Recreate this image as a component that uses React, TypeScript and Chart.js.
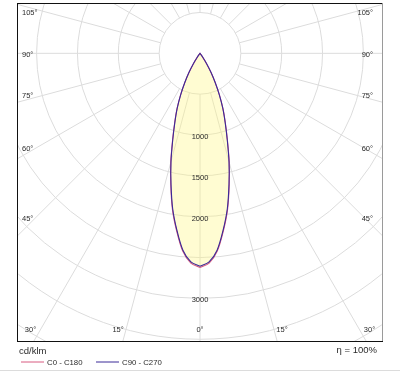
import React, { useEffect, useRef } from 'react';
import { Chart, registerables } from 'chart.js';

Chart.register(...registerables);

// ---- data ----
const gammaDeg = [0, 2.5, 5, 7.5, 10, 12.5, 15, 17.5, 20, 22.5, 25, 27.5, 30, 32.5, 35, 37.5, 40];
const intensityC0C180 = [2620, 2570, 2430, 2192, 1942, 1652, 1383, 1118, 908, 736, 565, 404, 271, 150, 60, 12, 0];
const intensityC90C270 = [2606, 2556, 2416, 2178, 1928, 1640, 1372, 1109, 900, 730, 560, 400, 268, 148, 59, 11, 0];
const ringValues = [500, 1000, 1500, 2000, 2500, 3000, 3500, 4000, 4500, 5000];
const ringLabelValues = [1000, 1500, 2000, 3000];
const angleLabelDeg = [0, 15, 30, 45, 60, 75, 90, 105];
const spokeStepDeg = 15;
const seriesNames = ['C0 - C180', 'C90 - C270'];
const unitLabel = 'cd/klm';
const efficiencyLabel = 'η = 100%';
const xRange = [-2240, 2240];
const yRange = [-616, 3521];

const RAD = Math.PI / 180;
const FONT = '"Liberation Sans", Arial, sans-serif';
const RED = '#d85a80';
const BLUE = '#3a2a98';

function toCurve(values: number[]) {
  const right = gammaDeg.map((g, i) => ({ x: values[i] * Math.sin(g * RAD), y: values[i] * Math.cos(g * RAD) }));
  const left = gammaDeg
    .map((g, i) => ({ x: -values[i] * Math.sin(g * RAD), y: values[i] * Math.cos(g * RAD) }))
    .reverse();
  return [...right, ...left];
}

const gridPlugin = {
  id: 'polarGrid',
  beforeDatasetsDraw(chart: any) {
    const { ctx, chartArea, scales } = chart;
    const xs = scales.x, ys = scales.y;
    const cx = xs.getPixelForValue(0);
    const cy = ys.getPixelForValue(0);
    const rp = (v: number) => xs.getPixelForValue(v) - cx;
    ctx.save();
    ctx.beginPath();
    ctx.rect(chartArea.left, chartArea.top, chartArea.right - chartArea.left, chartArea.bottom - chartArea.top);
    ctx.clip();
    ctx.strokeStyle = '#dcdcdc';
    ctx.lineWidth = 1;
    for (const v of ringValues) {
      ctx.beginPath();
      ctx.arc(cx, cy, rp(v), 0, Math.PI * 2);
      ctx.stroke();
    }
    const r0 = rp(ringValues[0]);
    const r1 = rp(ringValues[ringValues.length - 1]);
    for (let a = 0; a < 360; a += spokeStepDeg) {
      const dx = Math.sin(a * RAD), dy = Math.cos(a * RAD);
      ctx.beginPath();
      ctx.moveTo(cx + dx * r0, cy + dy * r0);
      ctx.lineTo(cx + dx * r1, cy + dy * r1);
      ctx.stroke();
    }
    ctx.restore();
  },
  afterDatasetsDraw(chart: any) {
    const { ctx, chartArea, scales } = chart;
    const xs = scales.x, ys = scales.y;
    const cx = xs.getPixelForValue(0);
    const cy = ys.getPixelForValue(0);
    const { left, right, top, bottom } = chartArea;
    ctx.save();
    ctx.fillStyle = '#2a2a2a';
    ctx.font = `7.5px ${FONT}`;
    ctx.textBaseline = 'middle';
    ctx.textAlign = 'center';
    for (const v of ringLabelValues) {
      ctx.fillText(String(v), cx, ys.getPixelForValue(v) + 2);
    }
    // angle labels along the frame
    const halfW = (right - left) / 2 - 10;
    const down = bottom - 11 - cy;
    for (const a of angleLabelDeg) {
      const sides = a === 0 ? [0] : [-1, 1];
      const shift = a === 0 || a === 90 ? 0 : a < 90 ? 1.5 : -1.5;
      const ar = (a + shift) * RAD;
      for (const s of sides) {
        const label = `${a}°`;
        const sx = Math.sin(ar), sy = Math.cos(ar);
        const tSide = sx > 1e-6 ? halfW / sx : Infinity;
        const tBottom = sy > 1e-6 ? down / sy : Infinity;
        if (tSide <= tBottom) {
          const ty = cy + halfW * (sy / sx) + 1.5;
          if (s < 0) { ctx.textAlign = 'left'; ctx.fillText(label, left + 5, ty); }
          else { ctx.textAlign = 'right'; ctx.fillText(label, right - 10, ty); }
        } else {
          ctx.textAlign = 'center';
          ctx.fillText(label, cx + s * down * (sx / sy), bottom - 11);
        }
      }
    }
    // frame
    ctx.lineWidth = 1;
    ctx.strokeStyle = '#111';
    ctx.beginPath();
    ctx.moveTo(left, top + 0.5); ctx.lineTo(right, top + 0.5);
    ctx.moveTo(left + 0.5, top); ctx.lineTo(left + 0.5, bottom);
    ctx.moveTo(left, bottom + 0.5); ctx.lineTo(right, bottom + 0.5);
    ctx.stroke();
    ctx.strokeStyle = '#9a9a9a';
    ctx.beginPath();
    ctx.moveTo(right - 0.5, top); ctx.lineTo(right - 0.5, bottom);
    ctx.stroke();
    ctx.restore();
  },
  afterDraw(chart: any) {
    const { ctx, width } = chart;
    ctx.save();
    ctx.textBaseline = 'middle';
    ctx.fillStyle = '#2a2a2a';
    ctx.font = `9.5px ${FONT}`;
    ctx.textAlign = 'left';
    ctx.fillText(unitLabel, 19, 351);
    ctx.textAlign = 'right';
    ctx.fillText(efficiencyLabel, 377, 350);
    const colors = [RED, BLUE];
    const starts = [21, 96];
    ctx.font = `7.8px ${FONT}`;
    ctx.textAlign = 'left';
    seriesNames.forEach((name, i) => {
      ctx.strokeStyle = colors[i];
      ctx.lineWidth = 1;
      ctx.beginPath();
      ctx.moveTo(starts[i], 362);
      ctx.lineTo(starts[i] + 23, 362);
      ctx.stroke();
      ctx.fillText(name, starts[i] + 26, 362.5);
    });
    ctx.strokeStyle = '#dcdcdc';
    ctx.beginPath();
    ctx.moveTo(0, 370.5);
    ctx.lineTo(width, 370.5);
    ctx.stroke();
    ctx.restore();
  },
};

export default function App() {
  const ref = useRef<HTMLCanvasElement | null>(null);
  useEffect(() => {
    if (!ref.current) return;
    const chart = new Chart(ref.current, {
      type: 'scatter',
      data: {
        datasets: [
          {
            label: seriesNames[0],
            data: toCurve(intensityC0C180),
            showLine: true,
            borderColor: RED,
            borderWidth: 1.1,
            backgroundColor: 'rgba(255, 246, 130, 0.36)',
            fill: 'shape',
            pointRadius: 0,
            tension: 0.3,
            order: 2,
          },
          {
            label: seriesNames[1],
            data: toCurve(intensityC90C270),
            showLine: true,
            borderColor: BLUE,
            borderWidth: 1.1,
            backgroundColor: 'transparent',
            fill: false,
            pointRadius: 0,
            tension: 0.3,
            order: 1,
          },
        ],
      },
      options: {
        responsive: false,
        animation: false,
        devicePixelRatio: 1,
        events: [],
        layout: { padding: { left: 17, right: 17, top: 3, bottom: 33 } },
        scales: {
          x: { type: 'linear', min: xRange[0], max: xRange[1], display: false },
          y: { type: 'linear', min: yRange[0], max: yRange[1], reverse: true, display: false },
        },
        plugins: { legend: { display: false }, tooltip: { enabled: false } },
      },
      plugins: [gridPlugin],
    });
    return () => chart.destroy();
  }, []);
  return (
    <div style={{ position: 'fixed', left: 0, top: 0, width: 400, height: 374, background: '#fff' }}>
      <canvas ref={ref} width={400} height={374} style={{ display: 'block' }} />
    </div>
  );
}
